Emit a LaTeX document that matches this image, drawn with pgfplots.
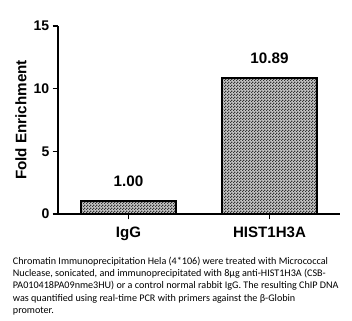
\documentclass[border=0pt]{standalone}
\usepackage{pgfplots}
\pgfplotsset{compat=1.18}
\usetikzlibrary{patterns}
\usepackage{fontspec}
\setmainfont{Liberation Sans}
\newfontfamily\capfont{Carlito}
\pgfdeclarepatternformonly{finecheck}{\pgfpointorigin}{\pgfqpoint{2pt}{2pt}}{\pgfqpoint{2pt}{2pt}}{%
  \pgfpathrectangle{\pgfpointorigin}{\pgfqpoint{1pt}{1pt}}%
  \pgfpathrectangle{\pgfqpoint{1pt}{1pt}}{\pgfqpoint{1pt}{1pt}}%
  \pgfusepath{fill}}
\begin{document}
\begin{tikzpicture}
\useasboundingbox (0,0) rectangle (264pt,240pt);
\begin{axis}[
  at={(43.5pt,79.5pt)}, anchor=south west,
  scale only axis, width=211.5pt, height=141pt,
  xmin=-0.5, xmax=1.5, ymin=0, ymax=15,
  axis x line=bottom, axis y line=left,
  axis line style={line width=1.1pt, -},
  xtick={0,1}, xticklabels={IgG,HIST1H3A},
  ytick={0,5,10,15},
  tick style={line width=1pt, black},
  major tick length=4pt,
  tick align=outside,
  /pgf/number format/assume math mode=true,
  yticklabel style={font=\bfseries\fontsize{10.5}{12}\selectfont, xshift=1pt},
  xticklabel style={font=\bfseries\fontsize{11.3}{13}\selectfont, yshift=-2pt},
  ylabel={Fold Enrichment},
  every axis y label/.style={at={(axis description cs:0,0.5)}, rotate=90, anchor=center, yshift=27.75pt, font=\bfseries\fontsize{11.4}{13}\selectfont},
  ]
\addplot[ybar, bar width=0.67, draw=black, line width=1.5pt,
  fill=gray!45, postaction={pattern=finecheck, pattern color=black!80},
  nodes near coords, point meta=explicit symbolic,
  every node near coord/.append style={font=\bfseries\fontsize{11.4}{13}\selectfont, inner sep=0pt, yshift=10pt, anchor=south}]
  coordinates {(0,1.00)[1.00] (1,10.89)[10.89]};
\end{axis}
\node[anchor=north west, inner sep=0pt, align=left, font=\capfont\fontsize{7.6}{9.2}\selectfont] at (9.5pt,47.5pt) {%
Chromatin Immunoprecipitation Hela (4*106) were treated with Micrococcal\\
Nuclease, sonicated, and immunoprecipitated with 8μg anti-HIST1H3A (CSB-\\
PA010418PA09nme3HU) or a control normal rabbit IgG. The resulting ChIP DNA\\
was quantified using real-time PCR with primers against the β-Globin\\
promoter.};
\end{tikzpicture}
\end{document}
